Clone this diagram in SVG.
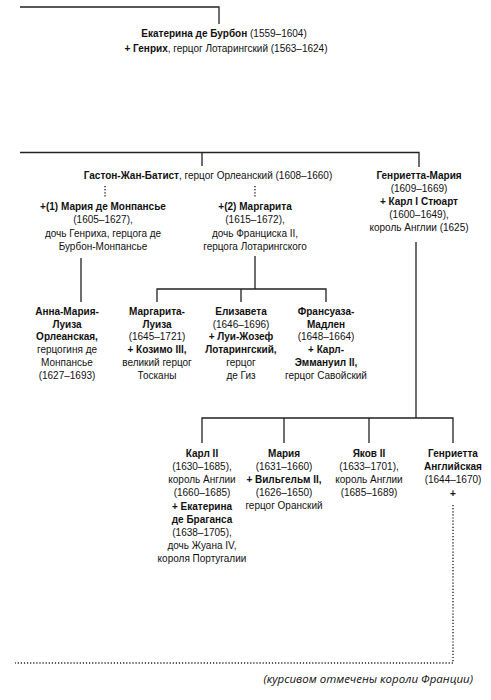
<svg xmlns="http://www.w3.org/2000/svg" width="491" height="700" viewBox="0 0 491 700">
<style>
text{font-family:"Liberation Sans Narrow","Liberation Sans",Arial,sans-serif;font-size:10px;fill:#111;text-anchor:middle}
.b{font-weight:bold}
.ln{fill:none;stroke:#222;stroke-width:1.3}
.dot{fill:none;stroke:#222;stroke-width:1.4;stroke-dasharray:1.2 1.9}
.cap{font-family:"Open Sans","Noto Sans",sans-serif;font-style:italic;font-size:11.5px;text-anchor:end}
</style>
<rect width="491" height="700" fill="#fff"/>
<g id="connectors">
<path class="ln" d="M20 7H219V24"/>
<path class="ln" d="M20 152.5H419V167M202 152.5V166"/>
<path class="dot" d="M105 186V197M255 186V197"/>
<path class="ln" d="M81 258V302"/>
<path class="ln" d="M255 256V289M157 302V289H326V302M241 289V302"/>
<path class="ln" d="M416 242V418M202 443V418H453V443M284 418V443M369 418V443"/>
<path class="dot" d="M453 505V663H15"/>
</g>
<g id="ekaterina">
<text x="224" y="37"><tspan class="b">Екатерина де Бурбон</tspan> (1559–1604)</text>
<text x="226" y="52"><tspan class="b">+ Генрих</tspan>, герцог Лотарингский (1563–1624)</text>
</g>
<g id="gaston">
<text x="208" y="179"><tspan class="b">Гастон-Жан-Батист</tspan>, герцог Орлеанский (1608–1660)</text>
</g>
<g id="maria-monpansie">
<text x="103" y="210" class="b">+(1) Мария де Монпансье</text>
<text x="103" y="223">(1605–1627),</text>
<text x="103" y="236.5">дочь Генриха, герцога де</text>
<text x="103" y="249.5">Бурбон-Монпансье</text>
</g>
<g id="margarita">
<text x="255" y="210" class="b">+(2) Маргарита</text>
<text x="255" y="223">(1615–1672),</text>
<text x="255" y="236.5">дочь Франциска II,</text>
<text x="255" y="249.5">герцога Лотарингского</text>
</g>
<g id="henrietta-maria">
<text x="419" y="178.5" class="b">Генриетта-Мария</text>
<text x="419" y="192">(1609–1669)</text>
<text x="419" y="205" class="b">+ Карл I Стюарт</text>
<text x="419" y="218">(1600–1649),</text>
<text x="419" y="231">король Англии (1625)</text>
</g>
<g id="anna-maria">
<text x="67" y="315" class="b">Анна-Мария-</text>
<text x="67" y="327.7" class="b">Луиза</text>
<text x="67" y="340.4" class="b">Орлеанская,</text>
<text x="67" y="353.1">герцогиня де</text>
<text x="67" y="365.8">Монпансье</text>
<text x="67" y="378.5">(1627–1693)</text>
</g>
<g id="margarita-luiza">
<text x="157" y="315" class="b">Маргарита-</text>
<text x="157" y="327.7" class="b">Луиза</text>
<text x="157" y="340.4">(1645–1721)</text>
<text x="157" y="353.1" class="b">+ Козимо III,</text>
<text x="157" y="365.8">великий герцог</text>
<text x="157" y="378.5">Тосканы</text>
</g>
<g id="elizaveta">
<text x="241" y="315" class="b">Елизавета</text>
<text x="241" y="327.7">(1646–1696)</text>
<text x="241" y="340.4" class="b">+ Луи-Жозеф</text>
<text x="241" y="353.1" class="b">Лотарингский,</text>
<text x="241" y="365.8">герцог</text>
<text x="241" y="378.5">де Гиз</text>
</g>
<g id="fransuaza">
<text x="326" y="315" class="b">Франсуаза-</text>
<text x="326" y="327.7" class="b">Мадлен</text>
<text x="326" y="340.4">(1648–1664)</text>
<text x="326" y="353.1" class="b">+ Карл-</text>
<text x="326" y="365.8" class="b">Эммануил II,</text>
<text x="326" y="378.5">герцог Савойский</text>
</g>
<g id="karl2">
<text x="202" y="457" class="b">Карл II</text>
<text x="202" y="470">(1630–1685),</text>
<text x="202" y="483">король Англии</text>
<text x="202" y="496">(1660–1685)</text>
<text x="202" y="509.5" class="b">+ Екатерина</text>
<text x="202" y="522.5" class="b">де Браганса</text>
<text x="202" y="536">(1638–1705),</text>
<text x="202" y="549">дочь Жуана IV,</text>
<text x="202" y="562">короля Португалии</text>
</g>
<g id="maria">
<text x="284" y="457" class="b">Мария</text>
<text x="284" y="470">(1631–1660)</text>
<text x="284" y="483" class="b">+ Вильгельм II,</text>
<text x="284" y="496">(1626–1650)</text>
<text x="284" y="509">герцог Оранский</text>
</g>
<g id="yakov2">
<text x="369" y="457" class="b">Яков II</text>
<text x="369" y="470">(1633–1701),</text>
<text x="369" y="483">король Англии</text>
<text x="369" y="496">(1685–1689)</text>
</g>
<g id="henrietta-angl">
<text x="453" y="457" class="b">Генриетта</text>
<text x="453" y="470" class="b">Английская</text>
<text x="453" y="483">(1644–1670)</text>
<text x="453" y="497" class="b">+</text>
</g>
<text class="cap" x="473" y="683">(курсивом отмечены короли Франции)</text>
</svg>
